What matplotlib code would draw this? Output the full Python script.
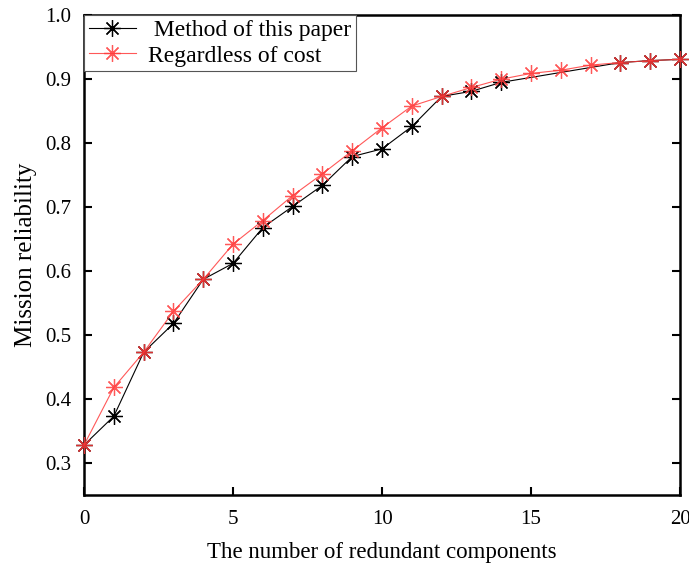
import numpy as np
import matplotlib.pyplot as plt

plt.rcParams['font.family'] = ['Liberation Serif', 'DejaVu Serif']

# redundant components vs. mission reliability
x_method = [0, 1, 2, 3, 4, 5, 6, 7, 8, 9, 10, 11, 12, 13, 14, 18, 19, 20]
y_method = [0.328, 0.373, 0.473, 0.518, 0.587, 0.612, 0.668, 0.701, 0.734,
            0.779, 0.791, 0.826, 0.873, 0.881, 0.895, 0.926, 0.929, 0.931]

x_cost = list(range(21))
y_cost = [0.328, 0.418, 0.473, 0.537, 0.587, 0.642, 0.679, 0.718, 0.752,
          0.788, 0.824, 0.858, 0.873, 0.887, 0.900, 0.909, 0.914, 0.922,
          0.926, 0.929, 0.931]

x_ticks = [0, 5, 10, 15, 20]
y_ticks = [0.3, 0.4, 0.5, 0.6, 0.7, 0.8, 0.9, 1.0]

star = (8, 2, 0)

fig = plt.figure(figsize=(6.89, 5.63), dpi=100)
ax = fig.add_axes([0.122, 0.121, 0.865, 0.852])

ax.plot(x_method, y_method, color='k', lw=0.8, marker=star, ms=12,
        mew=0.9, label=' Method of this paper', clip_on=False, zorder=3)
ax.plot(x_cost, y_cost, color='#ff3b3b', lw=0.8, marker=star, ms=12,
        mew=0.9, alpha=0.85, label='Regardless of cost', clip_on=False, zorder=4)

ax.set_xlim(0, 20)
ax.set_ylim(0.25, 1.0)
ax.set_xticks(x_ticks)
ax.set_yticks(y_ticks)
ax.set_yticklabels([f'{v:.1f}' for v in y_ticks])
ax.tick_params(direction='in', length=6, width=1.5, labelsize=15, pad=9)
ax.tick_params(axis='x', pad=11)
ax.tick_params(axis='y', right=True)
for s in ax.spines.values():
    s.set_linewidth(1.8)

ax.set_xlabel('The number of redundant components', fontsize=16.5, labelpad=9)
ax.set_ylabel('Mission reliability', fontsize=18, labelpad=6)

leg = ax.legend(loc='upper left', fontsize=17, fancybox=False, framealpha=1,
                edgecolor='#555555', borderaxespad=0, handlelength=2.0,
                borderpad=0.2, labelspacing=0.15, handletextpad=0.5)
leg.get_frame().set_linewidth(0.8)

fig.savefig('out.png', dpi=100)
